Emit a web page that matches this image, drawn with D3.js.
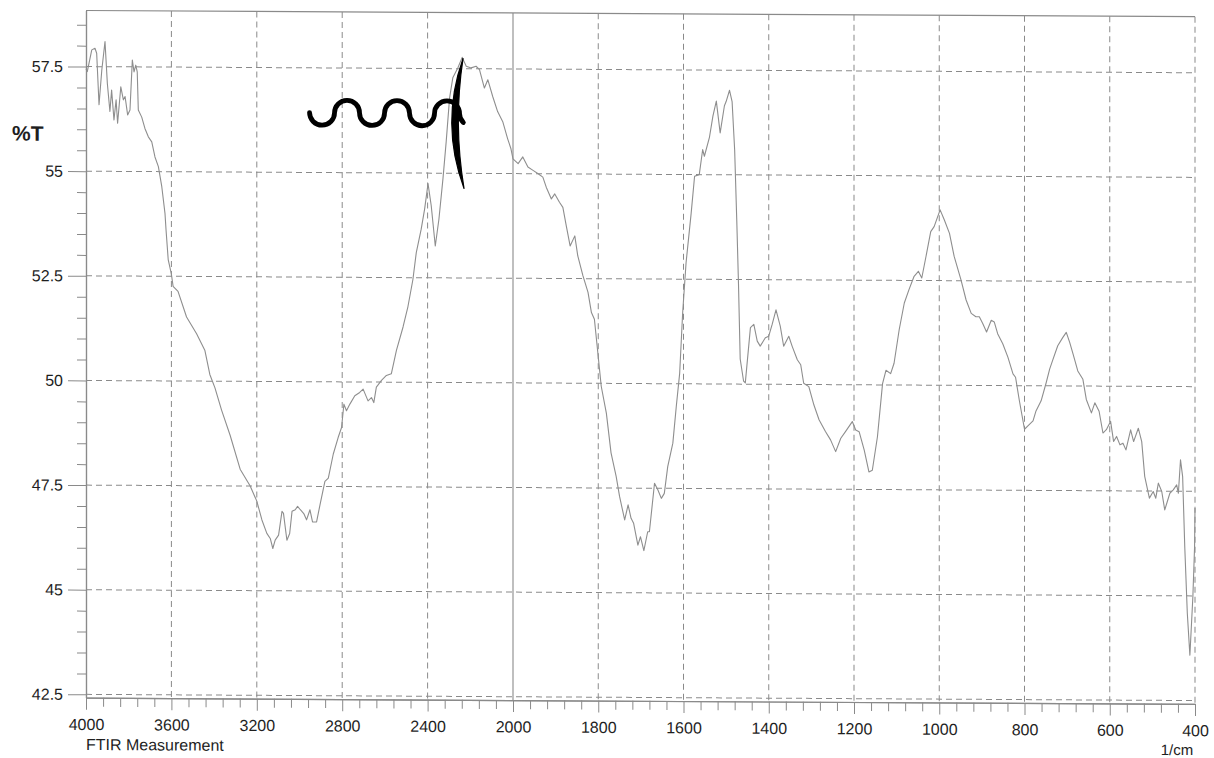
<!DOCTYPE html>
<html>
<head>
<meta charset="utf-8">
<script src="https://cdn.jsdelivr.net/npm/d3@7"></script>
<style>
  html, body { margin: 0; padding: 0; background: #ffffff; }
  svg { display: block; }
  text { font-family: "Liberation Sans", Arial, Helvetica, sans-serif; fill: #1e1e1e; }
</style>
</head>
<body>
<svg id="chart" width="1214" height="758"></svg>
<script>
// FTIR transmittance spectrum, wavenumber in 1/cm (descending), %T
const wavenumber = [
  4000, 3994, 3973, 3958, 3950, 3939, 3926, 3911, 3900, 3888, 3880, 3869, 3859, 3852, 3837, 3825,
  3817, 3805, 3794, 3783, 3775, 3767, 3760, 3755, 3739, 3724, 3708, 3692, 3677, 3661, 3645, 3630,
  3625, 3615, 3600, 3592, 3569, 3529, 3482, 3443, 3420, 3396, 3365, 3325, 3278, 3231, 3200, 3176,
  3153, 3137, 3125, 3114, 3098, 3082, 3075, 3059, 3046, 3035, 3020, 3009, 2996, 2980, 2967, 2951,
  2939, 2920, 2904, 2881, 2865, 2842, 2819, 2803, 2792, 2780, 2764, 2741, 2718, 2702, 2679, 2663,
  2652, 2640, 2616, 2593, 2570, 2546, 2515, 2492, 2469, 2453, 2430, 2414, 2398, 2383, 2364, 2347,
  2328, 2313, 2297, 2282, 2258, 2238, 2219, 2196, 2173, 2157, 2134, 2118, 2095, 2072, 2048, 2025,
  2010, 2000, 1988, 1977, 1965, 1953, 1941, 1930, 1922, 1910, 1902, 1891, 1883, 1875, 1866, 1855,
  1848, 1836, 1824, 1816, 1809, 1801, 1793, 1781, 1770, 1758, 1750, 1738, 1730, 1723, 1717, 1707,
  1701, 1693, 1684, 1680, 1668, 1660, 1652, 1645, 1637, 1625, 1617, 1609, 1602, 1594, 1582, 1574,
  1563, 1555, 1551, 1539, 1531, 1523, 1514, 1504, 1500, 1492, 1486, 1480, 1475, 1471, 1467, 1459,
  1455, 1443, 1435, 1427, 1420, 1408, 1400, 1392, 1383, 1373, 1365, 1353, 1345, 1333, 1325, 1318,
  1306, 1294, 1282, 1267, 1255, 1243, 1231, 1220, 1204, 1196, 1188, 1176, 1165, 1157, 1145, 1133,
  1125, 1114, 1106, 1094, 1082, 1071, 1059, 1049, 1041, 1031, 1020, 1012, 998, 988, 976, 965,
  949, 937, 925, 914, 906, 898, 889, 878, 871, 863, 851, 839, 827, 821, 812, 800,
  792, 780, 773, 761, 749, 741, 733, 722, 710, 702, 694, 686, 675, 663, 655, 643,
  635, 625, 616, 608, 598, 591, 584, 576, 569, 562, 551, 544, 533, 525, 518, 507,
  498, 492, 486, 478, 471, 459, 451, 443, 439, 434, 429, 424, 418, 412, 405, 401,
  400
];
const transmittance = [
  57.45, 57.38, 57.90, 57.94, 57.82, 56.59, 57.42, 58.10, 57.10, 56.43, 56.94, 56.23, 56.71, 56.15, 57.02, 56.71,
  56.79, 56.35, 56.47, 57.66, 57.38, 57.54, 57.38, 56.47, 56.30, 56.03, 55.83, 55.71, 55.35, 55.12, 54.64, 54.00,
  53.60, 52.90, 52.55, 52.26, 52.14, 51.53, 51.13, 50.73, 50.16, 49.84, 49.31, 48.71, 47.90, 47.50, 47.14, 46.69,
  46.37, 46.25, 46.01, 46.21, 46.33, 46.90, 46.85, 46.21, 46.37, 46.90, 46.94, 47.02, 46.94, 46.85, 46.70, 46.94,
  46.65, 46.65, 47.06, 47.62, 47.70, 48.27, 48.67, 48.91, 49.47, 49.31, 49.47, 49.67, 49.75, 49.83, 49.55, 49.63,
  49.51, 49.88, 50.04, 50.16, 50.20, 50.76, 51.32, 51.81, 52.45, 53.10, 53.66, 54.14, 54.75, 54.22, 53.26, 53.90,
  54.87, 55.75, 56.80, 57.28, 57.52, 57.77, 57.56, 57.52, 57.56, 57.48, 57.04, 57.24, 56.84, 56.48, 56.24, 55.83,
  55.60, 55.35, 55.24, 55.40, 55.16, 55.08, 55.00, 54.92, 54.68, 54.40, 54.52, 54.32, 54.20, 53.76, 53.28, 53.52,
  53.04, 52.57, 52.17, 51.69, 51.53, 50.73, 49.93, 49.29, 48.34, 47.78, 47.30, 46.74, 47.10, 46.78, 46.66, 46.14,
  46.34, 46.01, 46.46, 46.46, 47.62, 47.46, 47.26, 47.38, 48.02, 48.58, 49.45, 50.25, 51.69, 52.89, 54.08, 54.96,
  55.00, 55.60, 55.44, 55.90, 56.40, 56.76, 56.00, 56.65, 56.75, 57.02, 56.75, 55.60, 53.90, 52.40, 50.60, 50.07,
  50.03, 51.35, 51.43, 51.03, 50.91, 51.11, 51.15, 51.43, 51.78, 51.39, 50.91, 51.15, 50.91, 50.59, 50.47, 50.03,
  49.95, 49.51, 49.16, 48.88, 48.68, 48.40, 48.72, 48.88, 49.12, 48.92, 48.88, 48.44, 47.92, 47.96, 48.76, 50.03,
  50.35, 50.27, 50.52, 51.32, 51.96, 52.28, 52.60, 52.72, 52.56, 53.08, 53.67, 53.79, 54.19, 53.95, 53.63, 53.08,
  52.52, 52.04, 51.72, 51.64, 51.64, 51.48, 51.28, 51.56, 51.52, 51.24, 51.00, 50.68, 50.28, 50.20, 49.64, 48.96,
  49.04, 49.16, 49.40, 49.64, 50.08, 50.40, 50.64, 50.96, 51.16, 51.28, 51.04, 50.76, 50.36, 50.16, 49.68, 49.36,
  49.60, 49.40, 48.88, 48.96, 49.16, 48.68, 48.80, 48.60, 48.64, 48.48, 48.96, 48.68, 49.00, 48.68, 47.85, 47.33,
  47.49, 47.33, 47.69, 47.49, 47.05, 47.45, 47.53, 47.65, 47.45, 48.25, 47.85, 46.17, 44.58, 43.58, 44.98, 46.17,
  47.10
];

// Axis tick values and labels
const xTickValues = [4000, 3600, 3200, 2800, 2400, 2000, 1800, 1600, 1400, 1200, 1000, 800, 600, 400];
const yTickValues = [42.5, 45, 47.5, 50, 52.5, 55, 57.5];
const yAxisTitle = "%T";
const xAxisTitle = "1/cm";
const instrumentNote = "FTIR Measurement";

const spectrum = wavenumber.map((w, i) => ({ w, t: transmittance[i] }));

const svg = d3.select("#chart");

// Scale: 2x expanded wavenumber axis below 2000 1/cm
const x = d3.scaleLinear().domain([4000, 2000, 400]).range([86, 513, 1195]);
const y = d3.scaleLinear().domain([42.42, 58.84]).range([697.7, 10.5]);

const plotLeft = x(4000), plotRight = x(400), plotTop = y(58.84), plotBottom = y(42.42);
const frameColor = "#8a8a8a";

// Whole sheet is printed very slightly sheared
const root = svg.append("g")
  .attr("transform", `translate(${plotLeft},0) skewY(0.32) translate(${-plotLeft},0)`);

// Dashed grid
const grid = root.append("g")
  .attr("stroke", frameColor).attr("stroke-width", 1)
  .attr("stroke-dasharray", "6,4").attr("fill", "none");

grid.selectAll("line.h").data(yTickValues).join("line")
  .attr("class", "h")
  .attr("x1", plotLeft).attr("x2", plotRight)
  .attr("y1", d => y(d)).attr("y2", d => y(d));

grid.selectAll("line.v").data(xTickValues.filter(v => v !== 4000 && v !== 2000)).join("line")
  .attr("class", "v")
  .attr("x1", d => x(d)).attr("x2", d => x(d))
  .attr("y1", plotTop).attr("y2", plotBottom);

// Solid frame pieces: top border and the scale-change line at 2000
root.append("line")
  .attr("x1", plotLeft).attr("x2", plotRight).attr("y1", plotTop).attr("y2", plotTop)
  .attr("stroke", frameColor).attr("stroke-width", 1.2);
root.append("line")
  .attr("x1", x(2000)).attr("x2", x(2000)).attr("y1", plotTop).attr("y2", plotBottom)
  .attr("stroke", frameColor).attr("stroke-width", 1.1);

// Y axis: minor ticks every 0.5, labelled majors every 2.5
const yMinor = d3.range(42.5, 58.51, 0.5).filter(v => !yTickValues.includes(+v.toFixed(1)));
const yMinorAxis = root.append("g")
  .attr("transform", `translate(${plotLeft},0)`)
  .call(d3.axisLeft(y).tickValues(yMinor).tickSize(9).tickSizeOuter(0).tickFormat(""));
const yMajorAxis = root.append("g")
  .attr("transform", `translate(${plotLeft},0)`)
  .call(d3.axisLeft(y).tickValues(yTickValues).tickSize(18).tickSizeOuter(0).tickPadding(5)
    .tickFormat(d => String(d)));

// X axis: minor ticks every 80 above 2000 and every 40 below
const xMinor = d3.range(4000, 1999, -80).concat(d3.range(1960, 399, -40))
  .filter(v => !xTickValues.includes(v));
const xMinorAxis = root.append("g")
  .attr("transform", `translate(0,${plotBottom})`)
  .call(d3.axisBottom(x).tickValues(xMinor).tickSize(9).tickSizeOuter(0).tickFormat(""));
const xMajorAxis = root.append("g")
  .attr("transform", `translate(0,${plotBottom})`)
  .call(d3.axisBottom(x).tickValues(xTickValues).tickSize(12).tickSizeOuter(0).tickPadding(9)
    .tickFormat(d => String(d)));

[yMinorAxis, yMajorAxis, xMinorAxis, xMajorAxis].forEach(g => {
  g.selectAll("path.domain").attr("stroke", frameColor).attr("stroke-width", 1.2);
  g.selectAll(".tick line").attr("stroke", frameColor).attr("stroke-width", 1);
  g.selectAll(".tick text")
    .style("font-family", "'Liberation Sans', Arial, Helvetica, sans-serif")
    .style("font-size", "16px").attr("fill", "#1e1e1e");
});

// Axis titles and note
root.append("text")
  .attr("x", 12).attr("y", 141)
  .style("font-size", "21px").style("font-weight", "bold")
  .text(yAxisTitle);
root.append("text")
  .attr("x", plotLeft).attr("y", 750)
  .style("font-size", "16px")
  .text(instrumentNote);
root.append("text")
  .attr("x", 1177).attr("y", 749).attr("text-anchor", "middle")
  .style("font-size", "15px")
  .text(xAxisTitle);

// Spectrum trace
const line = d3.line().x(d => x(d.w)).y(d => y(d.t)).curve(d3.curveLinear);
root.append("path")
  .datum(spectrum)
  .attr("d", line)
  .attr("fill", "none")
  .attr("stroke", "#8e8e8e")
  .attr("stroke-width", 1.1)
  .attr("stroke-linejoin", "round");

// Hand-drawn polymer chain symbol with end bracket
const r = 12.5;
const mark = root.append("g")
  .attr("transform", `translate(${x(2953)},${y(56.43)})`);
let wave = "M0,0";
for (let i = 0; i < 6; i++) {
  wave += ` A${r},${r} 0 0 ${i % 2} ${(i + 1) * 2 * r},0`;
}
wave += ` A${r},${r} 0 0 0 153.8,9`;
mark.append("path")
  .attr("d", wave)
  .attr("fill", "none").attr("stroke", "#000")
  .attr("stroke-width", 4.8).attr("stroke-linecap", "round");
mark.append("path")
  .attr("d", "M153.5,-55 Q130.4,10 154.5,75 Q143.6,10 153.5,-55 Z")
  .attr("fill", "#000").attr("stroke", "#000").attr("stroke-width", 1.2)
  .attr("stroke-linejoin", "round");
</script>
</body>
</html>
